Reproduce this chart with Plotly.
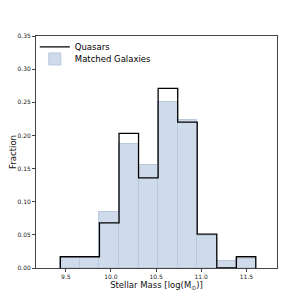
import plotly.graph_objects as go

bin_edges = [9.44, 9.657, 9.873, 10.09, 10.306, 10.523, 10.74, 10.956, 11.173, 11.39, 11.605]
quasar_frac = [0.017, 0.017, 0.068, 0.203, 0.136, 0.271, 0.220, 0.051, 0.0, 0.017]
galaxy_frac = [0.017, 0.017, 0.085, 0.187, 0.155, 0.250, 0.223, 0.048, 0.011, 0.013]
x_ticks = [9.5, 10.0, 10.5, 11.0, 11.5]
y_ticks = [0.0, 0.05, 0.10, 0.15, 0.20, 0.25, 0.30, 0.35]

centers = [(a + b) / 2 for a, b in zip(bin_edges[:-1], bin_edges[1:])]
widths = [b - a for a, b in zip(bin_edges[:-1], bin_edges[1:])]

# step outline for quasars (histtype='step')
sx, sy = [bin_edges[0]], [0.0]
for i, v in enumerate(quasar_frac):
    sx += [bin_edges[i], bin_edges[i + 1]]
    sy += [v, v]
sx.append(bin_edges[-1])
sy.append(0.0)

fig = go.Figure()
fig.add_trace(go.Bar(
    x=centers, y=galaxy_frac, width=widths, name="Matched Galaxies",
    marker=dict(color="#cfdaea", line=dict(color="#b8c9df", width=1)),
    legend="legend2",
))
fig.add_trace(go.Scatter(
    x=sx, y=sy, mode="lines", name="Quasars",
    line=dict(color="black", width=1.3), legend="legend",
))

axis_common = dict(
    showgrid=False, zeroline=False, showline=True, linecolor="#444",
    linewidth=1, mirror=True, ticks="outside", ticklen=3, tickwidth=1,
    tickcolor="#444", automargin=False,
    tickfont=dict(size=6, color="#222", family="DejaVu Sans"),
)
legend_common = dict(xanchor="left", yanchor="middle", bgcolor="rgba(0,0,0,0)",
                     font=dict(size=8.5, color="black"), itemwidth=30)
fig.update_layout(
    width=299, height=299,
    margin=dict(l=28, r=30, t=28, b=39),
    paper_bgcolor="white", plot_bgcolor="white",
    font=dict(family="DejaVu Sans", color="#111"),
    bargap=0,
    showlegend=True,
    legend=dict(x=-0.005, y=0.953, **legend_common),
    legend2=dict(x=-0.005, y=0.901, **legend_common),
    xaxis=dict(range=[9.17, 11.84], tickvals=x_ticks,
               ticktext=[f"{t:.1f}" for t in x_ticks],
               title=dict(text="Stellar Mass [log(M<sub>⊙</sub>)]", font=dict(size=8.5), standoff=2),
               **axis_common),
    yaxis=dict(range=[0, 0.35], tickvals=y_ticks,
               ticktext=[f"{t:.2f}" for t in y_ticks],
               title=dict(text="Fraction", font=dict(size=8.5), standoff=4),
               **axis_common),
)
fig.write_html("out.html")
